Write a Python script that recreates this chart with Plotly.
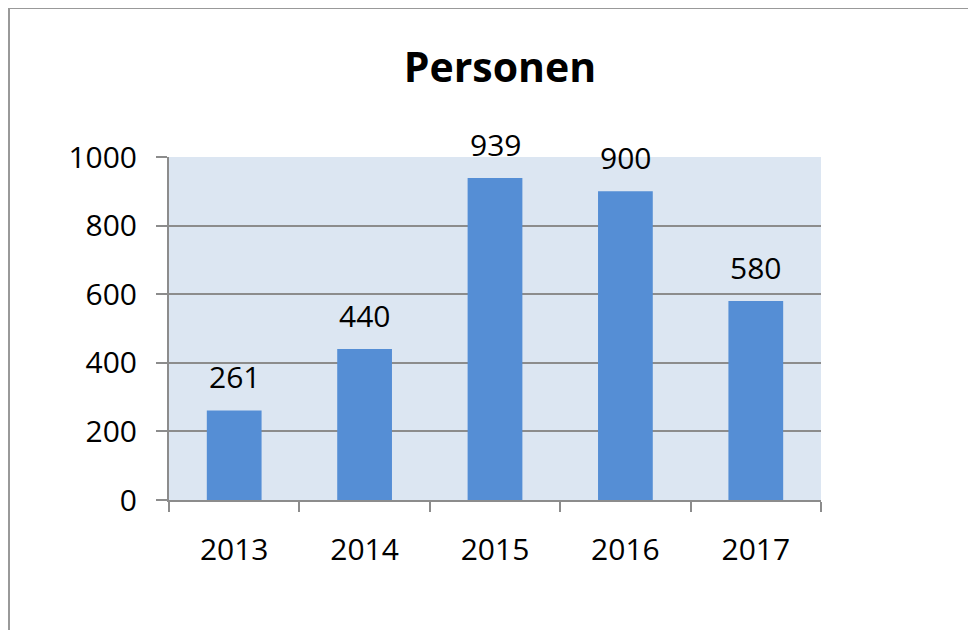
import plotly.graph_objects as go

years = ["2013", "2014", "2015", "2016", "2017"]
personen = [261, 440, 939, 900, 580]
y_ticks = [0, 200, 400, 600, 800, 1000]

FONT = "Open Sans"
GRID = "#8C8C8C"

fig = go.Figure(go.Bar(
    x=years, y=personen,
    marker=dict(color="#558ED5", line=dict(width=0)),
    width=0.42,
    cliponaxis=False,
))

for i, v in enumerate(personen):
    fig.add_annotation(x=i, y=v, xref="x", yref="y", text=str(v), showarrow=False,
                       yanchor="bottom", yshift=11,
                       font=dict(family=FONT, size=30, color="black"))

OFF = 8  # page body offset
W, H = 976, 630
L, R, T, B = 169 - OFF, 155 + OFF, 157 - OFF, 130 + OFF
pw, ph = W - L - R, H - T - B

def px(x):
    return (x - OFF - L) / pw

def py(y):
    return (H - B - (y - OFF)) / ph

fig.update_layout(
    width=W, height=H,
    margin=dict(l=L, r=R, t=T, b=B, pad=0),
    paper_bgcolor="white",
    plot_bgcolor="#DCE6F2",
    showlegend=False,
    title=dict(text="<b>Personen</b>", x=px(500), xanchor="center", xref="paper",
               y=1 - (68 - OFF) / H, yanchor="middle",
               font=dict(family=FONT, size=41, color="black")),
    font=dict(family=FONT, size=30, color="black"),
    xaxis=dict(
        type="category", tickson="boundaries", categoryorder="array", categoryarray=years,
        range=[-0.5, len(years) - 0.5],
        showline=True, linecolor=GRID, linewidth=2,
        ticks="outside", ticklen=10, tickwidth=2, tickcolor=GRID,
        showgrid=False, ticklabelstandoff=22, tickangle=0,
        tickfont=dict(family=FONT, size=30, color="black"),
    ),
    yaxis=dict(
        range=[0, 1000], tickvals=y_ticks,
        showline=True, linecolor=GRID, linewidth=2,
        ticks="outside", ticklen=11, tickwidth=2, tickcolor=GRID,
        showgrid=True, gridcolor=GRID, gridwidth=2,
        zeroline=False, ticklabelstandoff=13,
        tickfont=dict(family=FONT, size=30, color="black"),
    ),
    shapes=[dict(type="rect", xref="paper", yref="paper",
                 x0=px(9), x1=px(1000), y0=py(8), y1=py(660),
                 line=dict(color="#999999", width=2), fillcolor="rgba(0,0,0,0)",
                 layer="below")],
)

fig.write_html("out.html")
